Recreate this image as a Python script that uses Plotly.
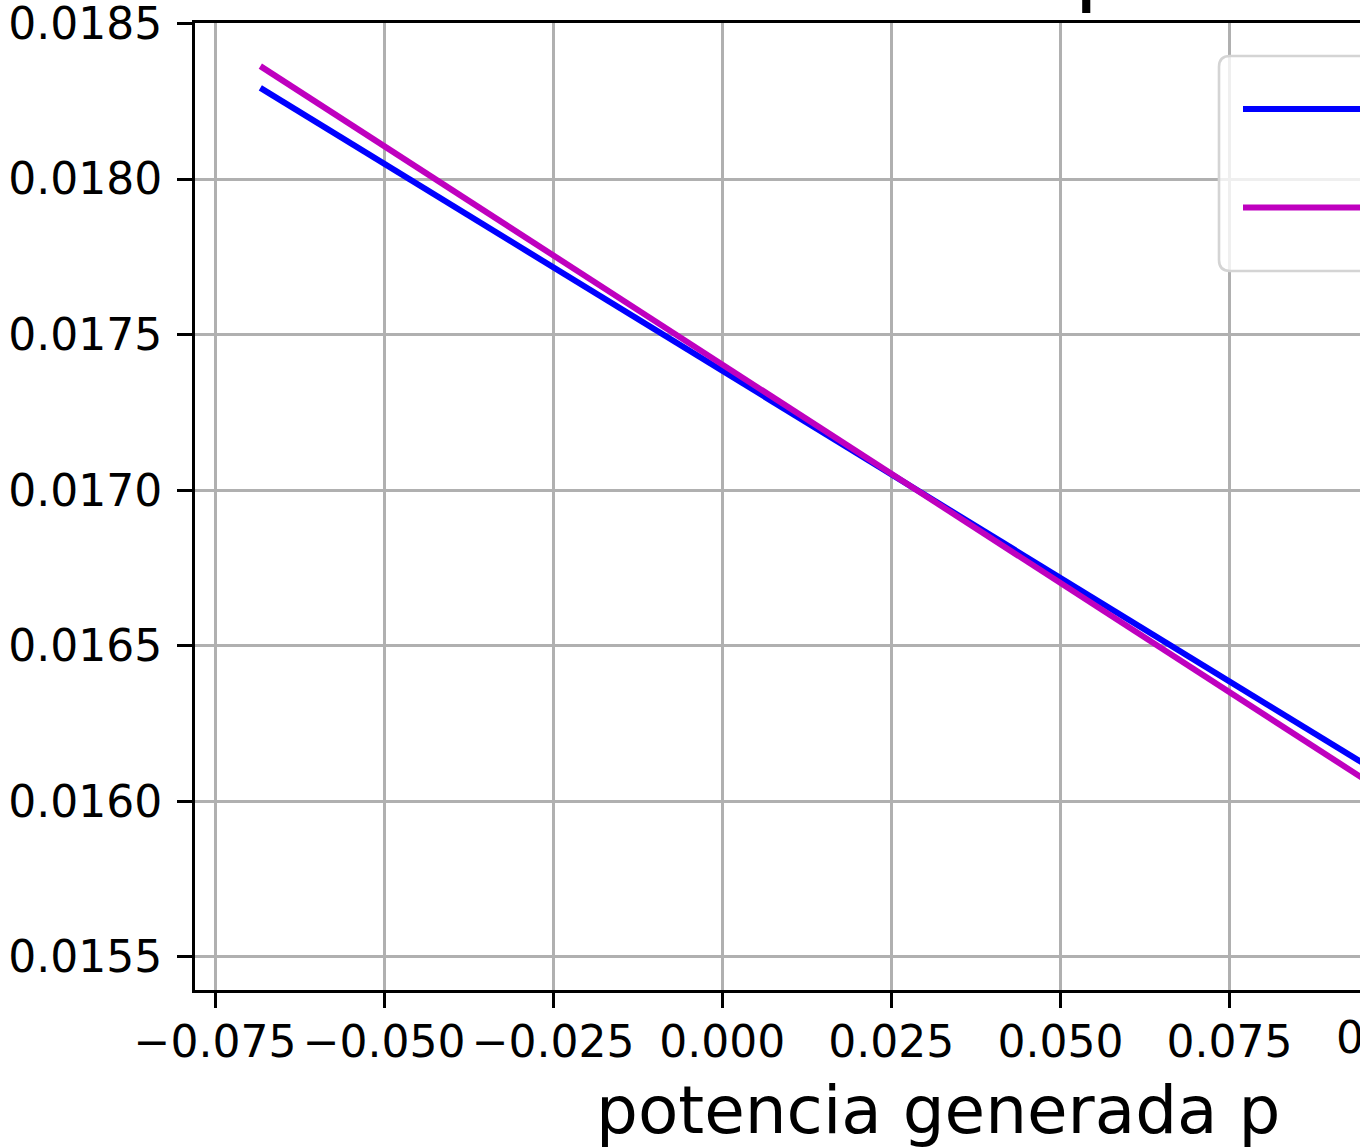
import plotly.graph_objects as go

# Generated power p and the two curves plotted against it
p_values = [-0.0683, -0.05, -0.025, 0.0, 0.025, 0.05, 0.075, 0.1]
serie_azul = [0.018293, 0.018049, 0.017716, 0.017384, 0.017051, 0.016718, 0.016385, 0.016053]
serie_magenta = [0.018363, 0.018106, 0.017755, 0.017404, 0.017053, 0.016702, 0.016350, 0.016000]

x_ticks = [-0.075, -0.05, -0.025, 0.0, 0.025, 0.05, 0.075, 0.1]
y_ticks = [0.0155, 0.0160, 0.0165, 0.0170, 0.0175, 0.0180, 0.0185]

FONT = "DejaVu Sans"
W_FIG, H_FIG = 1360, 1147
L, R, T, B = 195, 1360, 23, 990
PW, PH = R - L, B - T
LW = 6


def fx(px):
    return (px - L) / PW


def fy(py):
    return (B - py) / PH


fig = go.Figure()
fig.add_trace(go.Scatter(x=p_values, y=serie_azul, mode="lines",
                         line=dict(color="#0000ff", width=LW), showlegend=False))
fig.add_trace(go.Scatter(x=p_values, y=serie_magenta, mode="lines",
                         line=dict(color="#bf00bf", width=LW), showlegend=False))

# legend frame (rounded box running off to the right)
x0, y0, x1, y1, r = 1219, 56, 1700, 271, 11
pts = [
    ("M", (x1, y0)), ("L", (x0 + r, y0)), ("Q", (x0, y0), (x0, y0 + r)),
    ("L", (x0, y1 - r)), ("Q", (x0, y1), (x0 + r, y1)), ("L", (x1, y1)),
]
path = ""
for item in pts:
    cmd = item[0]
    coords = " ".join(f"{fx(a):.5f},{fy(b):.5f}" for a, b in item[1:])
    path += f"{cmd}{coords} "
path += "Z"
shapes = [
    dict(type="path", path=path, xref="paper", yref="paper", layer="above",
         fillcolor="rgba(255,255,255,0.8)", line=dict(color="#d4d4d4", width=2.6)),
    dict(type="line", xref="paper", yref="paper", layer="above",
         x0=fx(1243), x1=fx(1700), y0=fy(109), y1=fy(109),
         line=dict(color="#0000ff", width=LW)),
    dict(type="line", xref="paper", yref="paper", layer="above",
         x0=fx(1243), x1=fx(1700), y0=fy(207.5), y1=fy(207.5),
         line=dict(color="#bf00bf", width=LW)),
]

annotations = [
    dict(text="potencia generada p", xref="paper", yref="paper",
         x=fx(937.5), y=fy(1110), xanchor="center", yanchor="middle",
         showarrow=False, font=dict(family=FONT, size=66, color="black")),
    dict(text="0.100", xref="paper", yref="paper",
         x=fx(1398.5), y=fy(1037), xanchor="center", yanchor="middle",
         showarrow=False, font=dict(family=FONT, size=44, color="black")),
    dict(text="p", xref="paper", yref="paper",
         x=fx(1102), y=fy(-37), xanchor="center", yanchor="middle",
         showarrow=False, font=dict(family=FONT, size=90, color="black")),
]

fig.update_layout(
    width=W_FIG, height=H_FIG,
    margin=dict(l=L, r=W_FIG - R, t=T, b=H_FIG - B, autoexpand=False),
    paper_bgcolor="white", plot_bgcolor="white",
    font=dict(family=FONT, size=44, color="black"),
    shapes=shapes, annotations=annotations, showlegend=False,
)
fig.update_xaxes(
    range=[-0.077961, 0.094300], tickvals=x_ticks, tickformat=".3f",
    showgrid=True, gridcolor="#b0b0b0", gridwidth=2.6, zeroline=False,
    showline=True, linecolor="black", linewidth=3, mirror=True,
    ticks="outside", ticklen=15, tickwidth=3, tickcolor="black",
    tickfont=dict(family=FONT, size=44, color="black"), ticklabelstandoff=-4,
    ticklabeloverflow="allow",
)
fig.update_yaxes(
    range=[0.0153939, 0.0185016], tickvals=y_ticks, tickformat=".4f",
    showgrid=True, gridcolor="#b0b0b0", gridwidth=2.6, zeroline=False,
    showline=True, linecolor="black", linewidth=3, mirror=False,
    ticks="outside", ticklen=15, tickwidth=3, tickcolor="black",
    tickfont=dict(family=FONT, size=44, color="black"), ticklabelstandoff=6,
    ticklabeloverflow="allow",
)

fig.write_html("out.html")
